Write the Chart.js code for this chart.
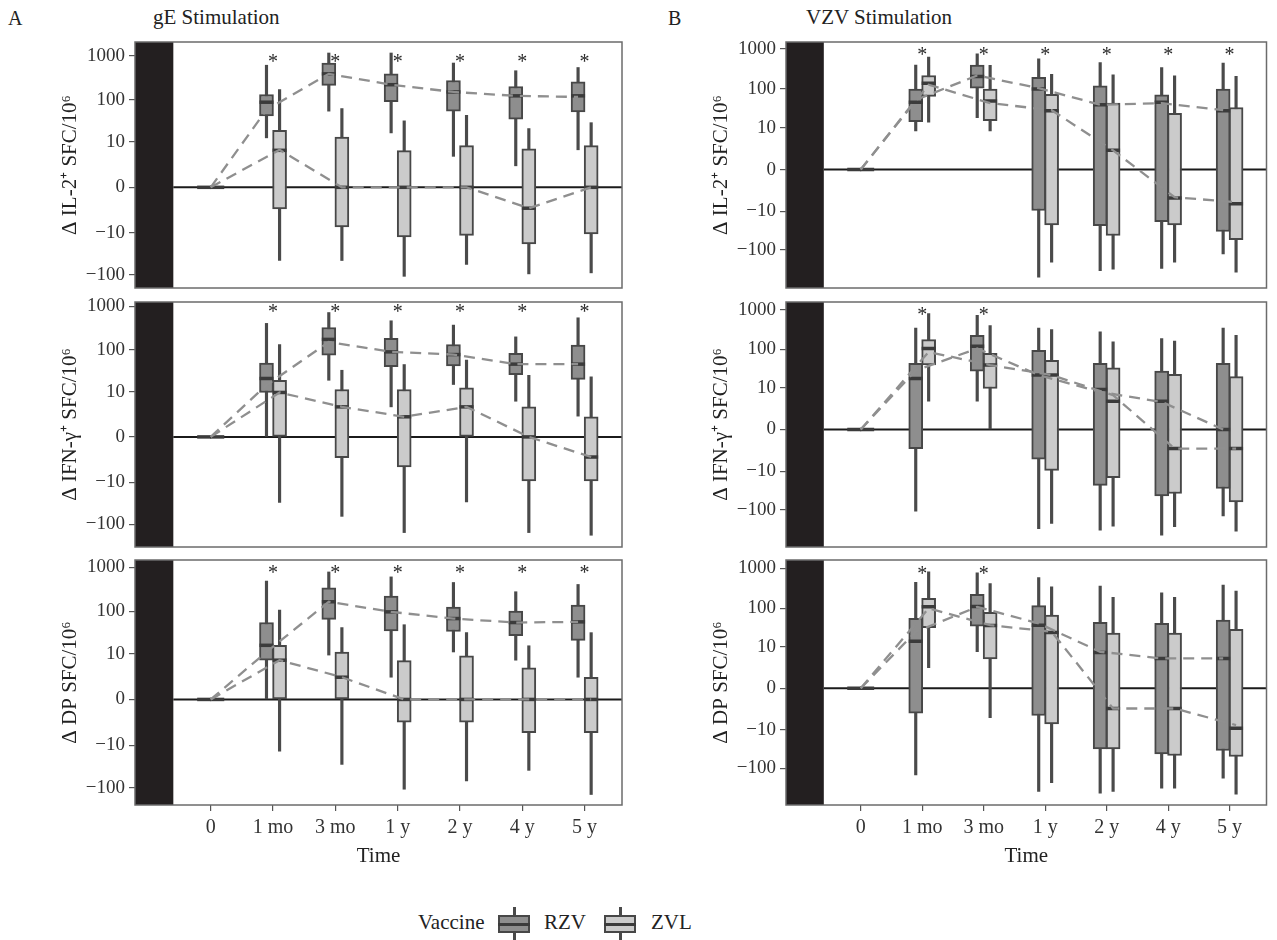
<!DOCTYPE html>
<html>
<head>
<meta charset="utf-8">
<script src="https://cdn.jsdelivr.net/npm/chart.js@4.4.0/dist/chart.umd.min.js"></script>
<style>
  body { margin: 0; width: 1277px; height: 940px; background: #fff; position: relative; overflow: hidden;
         font-family: 'Liberation Serif', 'Times New Roman', serif; color: #222; }
  canvas { position: absolute; }
  .txt { position: absolute; white-space: nowrap; line-height: 1; }
  .key { position: absolute; width: 32px; height: 33px; top: 907px; }
  .key .wh { position: absolute; left: 15px; top: 0; width: 2.5px; height: 33px; background: #4a4a4a; }
  .key .bx { position: absolute; left: 0; top: 8px; width: 32px; height: 18px; box-sizing: border-box; border: 2px solid #474747; }
  .key .md { position: absolute; left: 0; top: 15.5px; width: 32px; height: 3px; background: #3b3b3b; }
</style>
</head>
<body>
<div class="txt" style="left:8px;top:8px;font-size:20px">A</div>
<div class="txt" style="left:153px;top:7px;font-size:21px">gE Stimulation</div>
<div class="txt" style="left:668px;top:8px;font-size:20px">B</div>
<div class="txt" style="left:806px;top:7px;font-size:21px">VZV Stimulation</div>

<div class="txt" style="left:418px;top:912px;font-size:21px">Vaccine</div>
<div class="key" style="left:498px"><div class="wh"></div><div class="bx" style="background:#8e8e8e"></div><div class="md"></div></div>
<div class="txt" style="left:544px;top:912px;font-size:21px">RZV</div>
<div class="key" style="left:604px"><div class="wh"></div><div class="bx" style="background:#cbcbcb"></div><div class="md"></div></div>
<div class="txt" style="left:651px;top:912px;font-size:21px">ZVL</div>

<script>
// ---- data ----
const timeLabels = ['0', '1 mo', '3 mo', '1 y', '2 y', '4 y', '5 y'];
const yTickValues = [-100, -10, 0, 10, 100, 1000];
const yTickLabels = ['\u2212100', '\u221210', '0', '10', '100', '1000'];
const vaccines = ['RZV', 'ZVL'];
const starLevel = 900;

// box stats per time point: [low whisker, Q1, median, Q3, high whisker]
// gE stimulation, IL-2+
const gE_IL2_RZV = [[0, 0, 0, 0, 0], [12.5, 42, 87, 131, 615], [54, 213, 390, 690, 1170], [16.5, 90, 220, 390, 1170], [4.1, 54, 150, 275, 690], [2.1, 35, 122, 200, 460], [6.2, 52, 122, 255, 545]];
const gE_IL2_ZVL = [[0, 0, 0, 0, 0], [-46, -2.1, 6, 19, 170], [-46, -7, 0, 13, 62], [-107, -12.5, 0, 5.9, 32], [-57, -11.5, 0, 8, 43], [-94, -18.6, -2, 6.6, 21], [-89, -10.6, 0, 8, 29]];
const gE_IL2_RZV_mean = [0, 58, 390, 220, 150, 122, 115];
const gE_IL2_ZVL_mean = [0, 6.2, 0, 0, 0, -2, 0];
const gE_IL2_sig = [0, 1, 1, 1, 1, 1, 1];

// gE stimulation, IFN-gamma+
const gE_IFN_RZV = [[0, 0, 0, 0, 0], [0, 9.5, 21, 49, 405], [19, 75, 173, 325, 720], [3.9, 40, 89, 182, 465], [15, 42, 77, 132, 370], [5.6, 26, 46, 82, 198], [2, 20, 46, 128, 545]];
const gE_IFN_ZVL = [[0, 0, 0, 0, 0], [-31, 0, 9.5, 19, 132], [-66, -2, 3.9, 11.3, 33], [-157, -3.9, 1.9, 11.3, 45], [-30, 0, 3.9, 12.4, 57], [-157, -9.3, 0, 3.9, 25], [-181, -9.3, -1.9, 1.9, 23]];
const gE_IFN_RZV_mean = [0, 14.5, 150, 89, 77, 46, 46];
const gE_IFN_ZVL_mean = [0, 9.5, 3.9, 1.9, 3.9, 0, -1.9];
const gE_IFN_sig = [0, 1, 1, 1, 1, 1, 1];

// gE stimulation, double positive
const gE_DP_RZV = [[0, 0, 0, 0, 0], [0, 6.8, 16, 55, 490], [9.2, 65, 165, 345, 790], [2.2, 35, 97, 222, 610], [11, 34, 68, 125, 455], [6.8, 27, 55, 101, 280], [2.2, 21, 57, 138, 410]];
const gE_DP_ZVL = [[0, 0, 0, 0, 0], [-14, 0, 6.8, 16, 106], [-29, 0, 2.2, 11, 42], [-109, -2.3, 0, 6.6, 49], [-70, -2.3, 0, 8.8, 32], [-40, -4.7, 0, 4.2, 15.6], [-144, -4.7, 0, 2.2, 32]];
const gE_DP_RZV_mean = [0, 11, 165, 97, 68, 55, 57];
const gE_DP_ZVL_mean = [0, 6.8, 2.2, 0, 0, 0, 0];
const gE_DP_sig = [0, 1, 1, 1, 1, 1, 1];

// VZV stimulation, IL-2+
const VZV_IL2_RZV = [[0, 0, 0, 0, 0], [8.1, 14.5, 46, 100, 400], [18.5, 105, 207, 400, 760], [-480, -9.5, 100, 195, 570], [-330, -24, 40, 120, 460], [-287, -19, 46, 71, 345], [-125, -34, 28, 100, 445]];
const VZV_IL2_ZVL = [[0, 0, 0, 0, 0], [14, 65, 140, 218, 630], [8.1, 15.5, 50, 100, 390], [-203, -23, 28, 74, 235], [-300, -43, 2, 44, 227], [-203, -23, -4.1, 24, 213], [-360, -55, -6.1, 34, 207]];
const VZV_IL2_RZV_mean = [0, 53, 218, 105, 40, 44, 29];
const VZV_IL2_ZVL_mean = [0, 128, 44, 29, 2, -3.9, -5.5];
const VZV_IL2_sig = [0, 1, 1, 1, 1, 1, 1];

// VZV stimulation, IFN-gamma+
const VZV_IFN_RZV = [[0, 0, 0, 0, 0], [-110, -2, 18, 44, 345], [4.1, 28, 120, 227, 720], [-300, -4.5, 22, 95, 345], [-330, -24, 9, 44, 275], [-440, -45, 4.1, 28, 187], [-144, -29, 0, 44, 345]];
const VZV_IFN_ZVL = [[0, 0, 0, 0, 0], [4.1, 40, 105, 177, 790], [0, 9.6, 40, 79, 400], [-223, -9.5, 22, 53, 315], [-260, -15, 4.1, 34, 155], [-270, -39, -2, 23, 161], [-350, -64, -2, 20, 227]];
const VZV_IFN_RZV_mean = [0, 29, 105, 22, 7.7, 3.9, 0];
const VZV_IFN_ZVL_mean = [0, 86, 40, 22, 6.2, -2, -2];
const VZV_IFN_sig = [0, 1, 1, 0, 0, 0, 0];

// VZV stimulation, double positive
const VZV_DP_RZV = [[0, 0, 0, 0, 0], [-147, -3.2, 14, 55, 445], [7.2, 35, 110, 222, 770], [-380, -3.8, 37, 116, 585], [-420, -32, 6.9, 44, 360], [-315, -43, 4.6, 41, 245], [-177, -35, 4.6, 50, 380]];
const VZV_DP_ZVL = [[0, 0, 0, 0, 0], [2.3, 32, 108, 177, 820], [-4.4, 4.4, 36, 79, 415], [-228, -6.8, 24, 67, 345], [-380, -32, -2.2, 23, 187], [-315, -47, -2.2, 23, 187], [-445, -50, -9, 29, 270]];
const VZV_DP_RZV_mean = [0, 25, 108, 41, 7.2, 4.6, 4.6];
const VZV_DP_ZVL_mean = [0, 99, 37, 25, -2.2, -2.2, -7.3];
const VZV_DP_sig = [0, 1, 1, 0, 0, 0, 0];

// ---- layout / style ----
const FONT = "'Liberation Serif', 'Times New Roman', serif";
const X_MIN = -1.215, X_MAX = 6.6, SHADE_END = -0.6, DODGE = 0.105;
const fills = { RZV: '#8e8e8e', ZVL: '#cbcbcb' };
const cols = [
  { left: 0, width: 640, yWidth: 135, titlePad: 58 },
  { left: 650, width: 627, yWidth: 136, titlePad: 59 }
];
const rows = [ { top: 42, bottom: 288 }, { top: 302, bottom: 547 }, { top: 560, bottom: 805 } ];
const PAD_T = 20, X_AXIS_H = 72;

// pseudo-log transform used by the y axis
const tr = v => Math.sign(v) * Math.log10(1 + Math.abs(v));
const boxX = (i, k) => i + (k === 0 ? -DODGE : DODGE);
const lineX = (i, k) => (i === 0 ? 0 : boxX(i, k));

const panels = [
  { col: 0, row: 0, title: 'Δ IL-2⁺ SFC/10⁶', box: [gE_IL2_RZV, gE_IL2_ZVL], mean: [gE_IL2_RZV_mean, gE_IL2_ZVL_mean], sig: gE_IL2_sig, yMin: -2.30, yMax: 3.32 },
  { col: 0, row: 1, title: 'Δ IFN-γ⁺ SFC/10⁶', box: [gE_IFN_RZV, gE_IFN_ZVL], mean: [gE_IFN_RZV_mean, gE_IFN_ZVL_mean], sig: gE_IFN_sig, yMin: -2.53, yMax: 3.10 },
  { col: 0, row: 2, title: 'Δ DP SFC/10⁶', box: [gE_DP_RZV, gE_DP_ZVL], mean: [gE_DP_RZV_mean, gE_DP_ZVL_mean], sig: gE_DP_sig, yMin: -2.40, yMax: 3.17 },
  { col: 1, row: 0, title: 'Δ IL-2⁺ SFC/10⁶', box: [VZV_IL2_RZV, VZV_IL2_ZVL], mean: [VZV_IL2_RZV_mean, VZV_IL2_ZVL_mean], sig: VZV_IL2_sig, yMin: -2.95, yMax: 3.175 },
  { col: 1, row: 1, title: 'Δ IFN-γ⁺ SFC/10⁶', box: [VZV_IFN_RZV, VZV_IFN_ZVL], mean: [VZV_IFN_RZV_mean, VZV_IFN_ZVL_mean], sig: VZV_IFN_sig, yMin: -2.94, yMax: 3.19 },
  { col: 1, row: 2, title: 'Δ DP SFC/10⁶', box: [VZV_DP_RZV, VZV_DP_ZVL], mean: [VZV_DP_RZV_mean, VZV_DP_ZVL_mean], sig: VZV_DP_sig, yMin: -2.92, yMax: 3.21 }
];

// black band on the left, significance stars and the panel frame
const panelDecor = {
  id: 'panelDecor',
  beforeDatasetsDraw(chart) {
    const { ctx, chartArea: a, scales: { x } } = chart;
    ctx.save();
    ctx.fillStyle = '#231f20';
    ctx.fillRect(a.left, a.top, x.getPixelForValue(SHADE_END) - a.left, a.bottom - a.top);
    ctx.restore();
  },
  afterDatasetsDraw(chart, args, opts) {
    const { ctx, chartArea: a, scales: { x, y } } = chart;
    ctx.save();
    ctx.fillStyle = '#2a2a2a';
    ctx.font = '20px ' + FONT;
    ctx.textAlign = 'center';
    ctx.textBaseline = 'alphabetic';
    opts.sig.forEach((s, i) => {
      if (s) ctx.fillText('*', x.getPixelForValue(i), y.getPixelForValue(tr(starLevel)) + 10);
    });
    ctx.strokeStyle = '#6b6b6b';
    ctx.lineWidth = 1.5;
    ctx.strokeRect(a.left, a.top, a.right - a.left, a.bottom - a.top);
    ctx.restore();
  }
};

function buildDatasets(p) {
  const ds = [{
    type: 'line', data: [{ x: SHADE_END, y: 0 }, { x: X_MAX, y: 0 }],
    borderColor: '#1b1b1b', borderWidth: 2, pointRadius: 0, order: 6
  }];
  p.box.forEach((stats, k) => {
    ds.push({
      type: 'bar', label: vaccines[k] + ' whisker',
      data: stats.map((s, i) => ({ x: boxX(i, k), y: [tr(s[0]), tr(s[4])] })),
      backgroundColor: '#4a4a4a', barThickness: 2.5, grouped: false, order: 5
    });
    ds.push({
      type: 'bar', label: vaccines[k],
      data: stats.map((s, i) => ({ x: boxX(i, k), y: [tr(s[1]), tr(s[3])] })),
      backgroundColor: fills[vaccines[k]], borderColor: '#474747', borderWidth: 2,
      borderSkipped: false, barThickness: 14, grouped: false, order: 4
    });
    ds.push({
      type: 'line', label: vaccines[k] + ' median', showLine: false,
      data: stats.map((s, i) => ({ x: boxX(i, k), y: tr(s[2]) })),
      pointStyle: 'line', pointRadius: 7, pointBorderWidth: 3.5, pointBorderColor: '#3b3b3b', order: 3
    });
  });
  p.mean.forEach((m, k) => {
    ds.push({
      type: 'line', label: vaccines[k] + ' mean',
      data: m.map((v, i) => ({ x: lineX(i, k), y: tr(v) })),
      borderColor: '#8f8f8f', borderWidth: 2.3, borderDash: [11, 7], pointRadius: 0, tension: 0, order: 1
    });
  });
  return ds;
}

Chart.defaults.font.family = FONT;

panels.forEach(p => {
  const col = cols[p.col], row = rows[p.row];
  const showX = p.row === 2;
  const h = (row.bottom - row.top) + PAD_T + (showX ? X_AXIS_H : PAD_T);
  const cv = document.createElement('canvas');
  cv.width = col.width;
  cv.height = h;
  cv.style.left = col.left + 'px';
  cv.style.top = (row.top - PAD_T) + 'px';
  document.body.appendChild(cv);

  const xScale = {
    type: 'linear', min: X_MIN, max: X_MAX, offset: false, display: showX,
    afterBuildTicks: s => { s.ticks = timeLabels.map((_, i) => ({ value: i })); },
    ticks: { callback: (v, i) => timeLabels[i], font: { size: 20 }, color: '#333', padding: 5, maxRotation: 0, autoSkip: false },
    grid: { display: true, offset: false, drawOnChartArea: false, drawTicks: true, tickLength: 6, color: '#555', lineWidth: 1.2 },
    border: { display: false },
    title: { display: true, text: 'Time', font: { size: 21 }, color: '#222', padding: { top: 0, bottom: 8 } }
  };
  if (showX) xScale.afterFit = s => { s.height = X_AXIS_H; };

  new Chart(cv, {
    type: 'bar',
    data: { datasets: buildDatasets(p) },
    options: {
      responsive: false, animation: false, devicePixelRatio: 1, events: [],
      layout: { padding: { left: 0, right: col.width - col.yWidth - 487, top: PAD_T, bottom: showX ? 0 : PAD_T } },
      plugins: { legend: { display: false }, tooltip: { enabled: false }, panelDecor: { sig: p.sig } },
      scales: {
        x: xScale,
        y: {
          type: 'linear', min: p.yMin, max: p.yMax,
          afterBuildTicks: s => { s.ticks = yTickValues.map(v => ({ value: tr(v) })); },
          afterFit: s => { s.width = col.yWidth; },
          ticks: { callback: (v, i) => yTickLabels[i], font: { size: 19 }, color: '#333', padding: 4 },
          grid: { display: true, drawOnChartArea: false, drawTicks: true, tickLength: 6, color: '#555', lineWidth: 1.2 },
          border: { display: false },
          title: { display: true, text: p.title, font: { size: 21 }, color: '#222', padding: { top: col.titlePad, bottom: 0 } }
        }
      }
    },
    plugins: [panelDecor]
  });
});
</script>
</body>
</html>
